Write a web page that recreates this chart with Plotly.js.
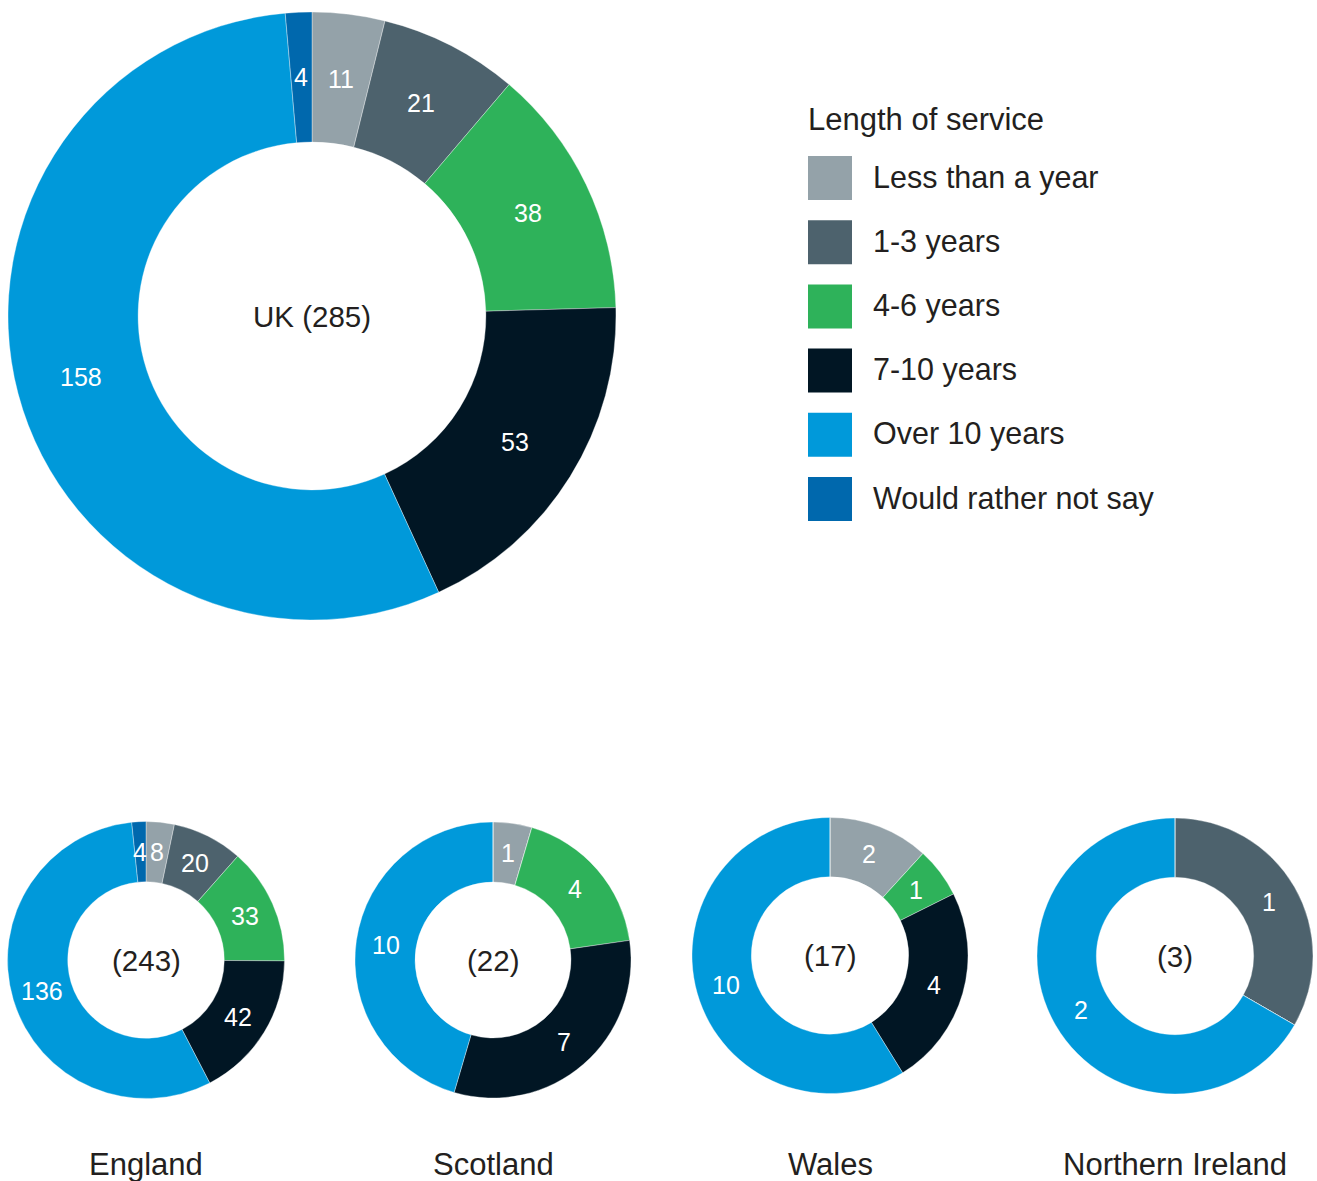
<!DOCTYPE html>
<html>
<head>
<meta charset="utf-8">
<script src="https://cdn.plot.ly/plotly-3.0.1.min.js"></script>
<style>html,body{margin:0;padding:0;background:#fff;}#chart{width:1317px;height:1181px;}</style>
</head>
<body>
<div id="chart"></div>
<script>
// ---- data ----
const categories = ["Less than a year", "1-3 years", "4-6 years", "7-10 years", "Over 10 years", "Would rather not say"];
const legendTitle = "Length of service";
const regions = ["UK", "England", "Scotland", "Wales", "Northern Ireland"];
const ukValues = [11, 21, 38, 53, 158, 4];
const englandValues = [8, 20, 33, 42, 136, 4];
const scotlandValues = [1, 0, 4, 7, 10, 0];
const walesValues = [2, 0, 1, 4, 10, 0];
const northernIrelandValues = [0, 1, 0, 0, 2, 0];

// ---- styles / positions ----
const colors = ["#94a2a9", "#4d626d", "#2eb25a", "#011624", "#0099da", "#0068ad"];
const W = 1317, H = 1181;
const FONT = "Liberation Sans, Arial, Helvetica, sans-serif";
const TEXT = "#231f20";
// pie geometry in pixels: [cx, cy, r, hole]
const geom = [
  [312, 316, 304, 0.572],
  [146, 960, 138.5, 0.565],
  [493, 960, 138, 0.565],
  [830, 955.5, 138, 0.57],
  [1175, 956, 138, 0.57]
];
const seriesList = [ukValues, englandValues, scotlandValues, walesValues, northernIrelandValues];

const fx = px => px / W;
const fy = py => 1 - py / H;
const sum = a => a.reduce((s, v) => s + v, 0);

const traces = seriesList.map((vals, i) => {
  const [cx, cy, r, hole] = geom[i];
  return {
    type: "pie",
    name: regions[i],
    labels: categories,
    values: vals,
    textinfo: "none",
    hole: hole,
    sort: false,
    direction: "clockwise",
    rotation: 0,
    marker: {colors: colors, line: {color: "rgba(255,255,255,0.5)", width: 0.7}},
    domain: {x: [fx(cx - r), fx(cx + r)], y: [fy(cy + r), fy(cy - r)]},
    showlegend: false,
    hoverinfo: "label+value"
  };
});

const annotations = [];
const shapes = [];

// slice value labels: mid-angle of each slice, mid-radius of the ring
seriesList.forEach((vals, i) => {
  const [cx, cy, r, hole] = geom[i];
  const total = sum(vals);
  const rm = r * (1 + hole) / 2;
  let cum = 0;
  vals.forEach(v => {
    if (v > 0) {
      const th = (cum + v / 2) / total * 2 * Math.PI;
      annotations.push({
        xref: "paper", yref: "paper",
        x: fx(cx + rm * Math.sin(th)), y: fy(cy - rm * Math.cos(th)),
        xanchor: "center", yanchor: "middle", showarrow: false,
        text: String(v), font: {family: FONT, size: 25, color: "#ffffff"}
      });
    }
    cum += v;
  });
});

// centre labels and region titles
seriesList.forEach((vals, i) => {
  const [cx, cy] = geom[i];
  annotations.push({
    xref: "paper", yref: "paper", x: fx(cx), y: fy(cy), xanchor: "center", yanchor: "middle",
    text: (i === 0 ? regions[i] + " " : "") + "(" + sum(vals) + ")",
    showarrow: false, font: {family: FONT, size: 29.5, color: TEXT}
  });
  if (i > 0) {
    annotations.push({
      xref: "paper", yref: "paper", x: fx(cx), y: fy(1164), xanchor: "center", yanchor: "middle",
      text: regions[i], showarrow: false, font: {family: FONT, size: 31, color: TEXT}
    });
  }
});

// custom legend
const legX = 808, legSw = 44, legTop = 156, legStep = 64.2;
annotations.push({
  xref: "paper", yref: "paper", x: fx(legX - 2), y: fy(120), xanchor: "left", yanchor: "middle",
  text: legendTitle, showarrow: false, font: {family: FONT, size: 31, color: TEXT}
});
categories.forEach((c, k) => {
  const top = legTop + k * legStep;
  shapes.push({
    type: "rect", xref: "paper", yref: "paper",
    x0: fx(legX), x1: fx(legX + legSw), y0: fy(top + legSw), y1: fy(top),
    fillcolor: colors[k], line: {width: 0}
  });
  annotations.push({
    xref: "paper", yref: "paper", x: fx(871), y: fy(top + legSw / 2 - 1), xanchor: "left", yanchor: "middle",
    text: c, showarrow: false, font: {family: FONT, size: 30.5, color: TEXT}
  });
});

const layout = {
  width: W, height: H,
  margin: {l: 0, r: 0, t: 0, b: 0, pad: 0},
  paper_bgcolor: "#ffffff",
  plot_bgcolor: "#ffffff",
  showlegend: false,
  annotations: annotations,
  shapes: shapes
};

Plotly.newPlot("chart", traces, layout, {displayModeBar: false, staticPlot: true});
</script>
</body>
</html>
